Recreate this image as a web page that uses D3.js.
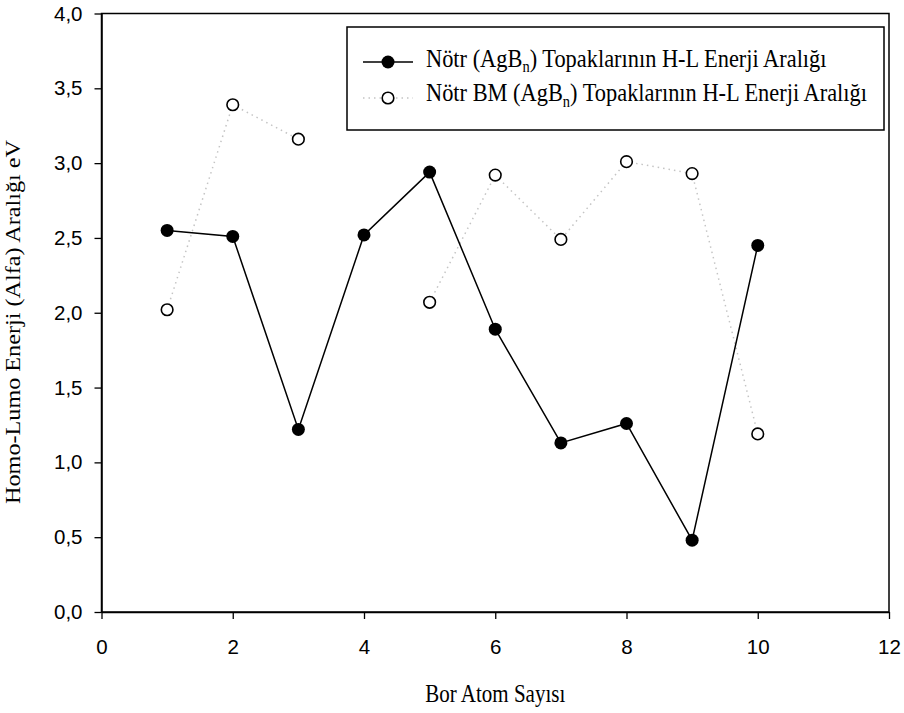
<!DOCTYPE html>
<html><head><meta charset="utf-8">
<script src="https://cdn.jsdelivr.net/npm/d3@7"></script>
<style>body{margin:0;background:#fff}svg{display:block}</style>
</head><body>
<svg id="c" width="904" height="713"></svg>
<script>
const atoms = [1,2,3,4,5,6,7,8,9,10];
const notr = [2.55,2.51,1.22,2.52,2.94,1.89,1.13,1.26,0.48,2.45];
const notrBM = [2.02,3.39,3.16,null,2.07,2.92,2.49,3.01,2.93,1.19];
const xTicks = [0,2,4,6,8,10,12];
const yTicks = [0,0.5,1,1.5,2,2.5,3,3.5,4];
const seriesNames = ["Nötr (AgB", "Nötr BM (AgB"];

const svg = d3.select("#c");
const L=101.5, R=889, T=13.5, B=612;
const x = d3.scaleLinear().domain([0,12]).range([L,R]);
const y = d3.scaleLinear().domain([0,4]).range([B,T]);
const fmt = d => d3.format(".1f")(d).replace(".", ",");

svg.append("rect").attr("x",L).attr("y",T).attr("width",R-L).attr("height",B-T)
  .attr("fill","none").attr("stroke","#000").attr("stroke-width",1.5);

const gx = svg.append("g").attr("transform",`translate(0,${B})`)
  .call(d3.axisBottom(x).tickValues(xTicks).tickSize(7).tickSizeOuter(0).tickPadding(20).tickFormat(d3.format("d")));
const gy = svg.append("g").attr("transform",`translate(${L},0)`)
  .call(d3.axisLeft(y).tickValues(yTicks).tickSize(7).tickSizeOuter(0).tickPadding(12).tickFormat(fmt));
[gx,gy].forEach(g=>{
  g.select(".domain").attr("stroke","#000").attr("stroke-width",1.5);
  g.selectAll(".tick line").attr("stroke","#000").attr("stroke-width",1.3);
  g.selectAll(".tick text").attr("font-family","'Liberation Sans', Arial, sans-serif")
    .attr("font-size",20.5).attr("fill","#000");
});

const line = d3.line().defined(d=>d[1]!=null).x(d=>x(d[0])).y(d=>y(d[1]));
const d2 = atoms.map((a,i)=>[a,notrBM[i]]);
const d1 = atoms.map((a,i)=>[a,notr[i]]);
svg.append("path").attr("d",line(d2)).attr("fill","none")
  .attr("stroke","#c4c4c4").attr("stroke-width",1.5).attr("stroke-dasharray","1.5,4");
svg.append("path").attr("d",line(d1)).attr("fill","none")
  .attr("stroke","#000").attr("stroke-width",1.5);

svg.append("g").selectAll("circle").data(d1).join("circle")
  .attr("cx",d=>x(d[0])).attr("cy",d=>y(d[1])).attr("r",6.5).attr("fill","#000");
svg.append("g").selectAll("circle").data(d2.filter(d=>d[1]!=null)).join("circle")
  .attr("cx",d=>x(d[0])).attr("cy",d=>y(d[1])).attr("r",5.8)
  .attr("fill","#fff").attr("stroke","#000").attr("stroke-width",1.6);

const serif = "'Liberation Serif', 'Times New Roman', serif";
svg.append("text").attr("transform",`translate(${(L+R)/2},702) scale(1,1.2)`).attr("text-anchor","middle")
  .attr("font-family",serif).attr("font-size",21).text("Bor Atom Sayısı");
svg.append("text").attr("transform",`translate(20,322) rotate(-90) scale(1.18,1)`).attr("text-anchor","middle")
  .attr("font-family",serif).attr("font-size",20.5).text("Homo-Lumo Enerji (Alfa) Aralığı eV");

const lg = svg.append("g");
lg.append("rect").attr("x",347).attr("y",27).attr("width",537).attr("height",103)
  .attr("fill","#fff").attr("stroke","#000").attr("stroke-width",1.5);
const rows = [
  {name:seriesNames[0], y:62, base:66.5, filled:true},
  {name:seriesNames[1], y:98, base:101, filled:false}
];
rows.forEach(r=>{
  lg.append("line").attr("x1",363).attr("x2",413).attr("y1",r.y).attr("y2",r.y)
    .attr("stroke", r.filled ? "#000" : "#c4c4c4").attr("stroke-width",1.5)
    .attr("stroke-dasharray", r.filled ? null : "1.5,4");
  lg.append("circle").attr("cx",388).attr("cy",r.y).attr("r", r.filled?6.5:5.8)
    .attr("fill", r.filled?"#000":"#fff").attr("stroke","#000").attr("stroke-width",r.filled?0:1.6);
  const t = lg.append("text").attr("transform",`translate(426,${r.base}) scale(1,1.15)`)
    .attr("font-family",serif).attr("font-size",22.4);
  t.append("tspan").text(r.name);
  t.append("tspan").attr("font-size",14.5).attr("dy",5).text("n");
  t.append("tspan").attr("dy",-5).text(") Topaklarının H-L Enerji Aralığı");
});
</script>
</body></html>
